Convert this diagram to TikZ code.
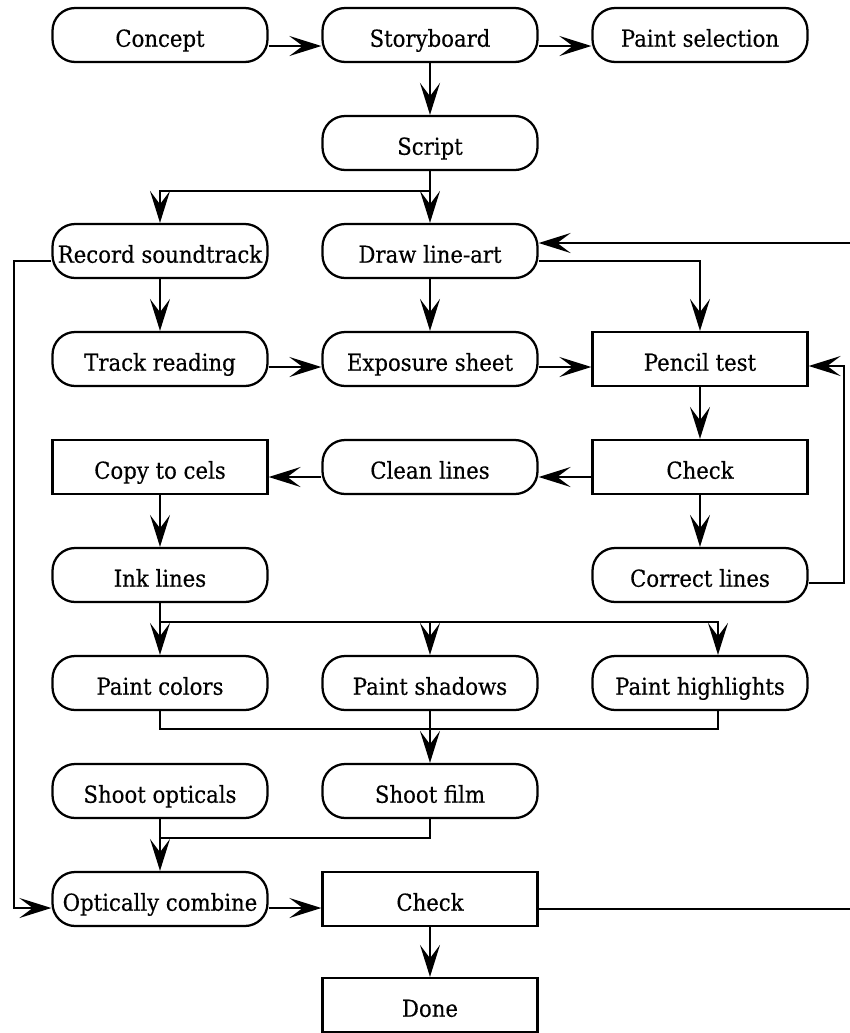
\documentclass[tikz,border=0pt]{standalone}
\usepackage{fontspec}
\setmainfont{DejaVu Serif}
\newfontfamily\labelfont[FakeStretch=0.91,FakeBold=0.4]{DejaVu Serif}
\usetikzlibrary{arrows.meta,calc}

\begin{document}
\begin{tikzpicture}[
  x=0.75pt, y=-0.75pt,
  base/.style={draw, line width=1.7pt, minimum width=161.25pt, minimum height=40.5pt,
    inner sep=0pt, text height=17.6pt, text depth=0pt,
    font=\labelfont\fontsize{17.5}{21}\selectfont},
  proc/.style={base, rounded corners=17pt},
  stepbox/.style={base},
  link/.style={line width=1.7pt},
  arr/.style={link, -{Stealth[length=24pt,width=15pt,inset=10pt]}},
]
\useasboundingbox (0,0) rectangle (850,1033);
\clip (0,0) rectangle (850,1033);

% nodes, three columns
\node[proc]    (concept)  at (160,35)   {Concept};
\node[proc]    (story)    at (430,35)   {Storyboard};
\node[proc]    (paintsel) at (700,35)   {Paint selection};
\node[proc]    (script)   at (430,143)  {Script};
\node[proc]    (record)   at (160,251)  {Record soundtrack};
\node[proc]    (drawla)   at (430,251)  {Draw line-art};
\node[proc]    (track)    at (160,359)  {Track reading};
\node[proc]    (expo)     at (430,359)  {Exposure sheet};
\node[stepbox] (pencil)   at (700,359)  {Pencil test};
\node[stepbox] (copy)     at (160,467)  {Copy to cels};
\node[proc]    (clean)    at (430,467)  {Clean lines};
\node[stepbox] (check)    at (700,467)  {Check};
\node[proc]    (ink)      at (160,575)  {Ink lines};
\node[proc]    (correct)  at (700,575)  {Correct lines};
\node[proc]    (pcolors)  at (160,683)  {Paint colors};
\node[proc]    (pshadows) at (430,683)  {Paint shadows};
\node[proc]    (phigh)    at (700,683)  {Paint highlights};
\node[proc]    (sopt)     at (160,791)  {Shoot opticals};
\node[proc]    (sfilm)    at (430,791)  {Shoot film};
\node[proc]    (ocomb)    at (160,899)  {Optically combine};
\node[stepbox] (check2)   at (430,899)  {Check};
\node[stepbox] (done)     at (430,1005) {Done};

% top row
\draw[arr] ($(concept.east)+(0,11)$) -- ($(story.west)+(0,11)$);
\draw[arr] ($(story.east)+(0,11)$) -- ($(paintsel.west)+(0,11)$);
\draw[arr] (story.south) -- (script.north);

% script fans out
\draw[arr] (script.south) -- ($(script.south)+(0,20)$) -| (record.north);
\draw[arr] (script.south) -- (drawla.north);

% sound track
\draw[arr] (record.south) -- (track.north);
\draw[arr] ($(record.west)+(0,10)$) -- ++(-37.5,0) |- ($(ocomb.west)+(0,9)$);

% line-art
\draw[arr] (drawla.south) -- (expo.north);
\draw[arr] ($(drawla.east)+(0,10)$) -| (pencil.north);
\draw[arr] ($(track.east)+(0,8)$) -- ($(expo.west)+(0,8)$);
\draw[arr] ($(expo.east)+(0,8)$) -- ($(pencil.west)+(0,8)$);

% pencil test loop
\draw[arr] (pencil.south) -- (check.north);
\draw[arr] ($(check.west)+(0,10)$) -- ($(clean.east)+(0,10)$);
\draw[arr] ($(clean.west)+(0,10)$) -- ($(copy.east)+(0,10)$);
\draw[arr] (check.south) -- (correct.north);
\draw[arr] ($(correct.east)+(0,8)$) -- ++(35.5,0) |- ($(pencil.east)+(0,7)$);

% inking and painting
\draw[arr] (copy.south) -- (ink.north);
\draw[link] (ink.south) -- ($(ink.south)+(0,19)$) -| ($(phigh.north)+(18,-10)$);
\draw[arr] ($(ink.south)+(0,19)$) -- (pcolors.north);
\draw[arr] ($(ink.south)+(0,19)$) -| (pshadows.north);
\draw[arr] ($(ink.south)+(0,19)$) -| ($(phigh.north)+(18,0)$);

\draw[link] (pcolors.south) |- ($(phigh.south)+(18,18)$) -- ($(phigh.south)+(18,0)$);
\draw[arr] (pshadows.south) -- (sfilm.north);

% shooting
\draw[link] (sfilm.south) |- ($(sopt.south)+(0,19)$);
\draw[arr] (sopt.south) -- (ocomb.north);
\draw[arr] ($(ocomb.east)+(0,9)$) -- ($(check2.west)+(0,9)$);
\draw[arr] (check2.south) -- (done.north);

% final check sends work back to line-art
\draw[arr] ($(check2.east)+(0,10)$) -- ++(330,0) |- ($(drawla.east)+(0,-8)$);
\end{tikzpicture}
\end{document}
